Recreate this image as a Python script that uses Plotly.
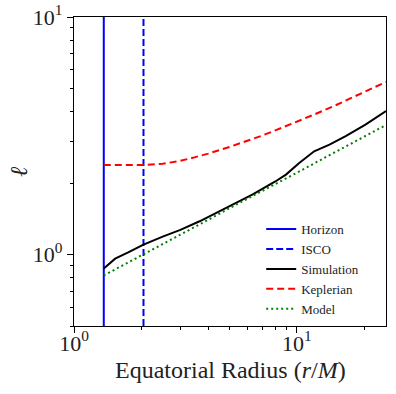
import math
import plotly.graph_objects as go

# ---- data ----
horizon_r = 1.36
isco_r = 2.05

sim_r = [1.36, 1.53, 1.75, 2.05, 2.5, 3.0, 3.66, 4.5, 5.0, 6.34, 8.0, 8.93, 10.24, 11.95, 14.0, 16.55, 20.3, 24.5, 25.1]
sim_l = [0.873, 0.96, 1.02, 1.10, 1.19, 1.27, 1.38, 1.52, 1.60, 1.79, 2.03, 2.17, 2.43, 2.72, 2.90, 3.15, 3.52, 3.95, 4.02]

kep_r = [1.36, 1.75, 2.05, 2.5, 3.0, 3.5, 4.0, 5.0, 6.0, 7.0, 8.0, 10.0, 12.0, 15.0, 18.0, 21.0, 25.1]
kep_l = [2.38, 2.38, 2.38, 2.41, 2.48, 2.57, 2.66, 2.84, 3.01, 3.17, 3.33, 3.62, 3.89, 4.26, 4.61, 4.92, 5.33]

mod_r = [1.36, 2.05, 3.0, 4.0, 5.0, 7.0, 10.0, 14.0, 20.0, 25.1]
mod_l = [0.816, 1.00, 1.21, 1.40, 1.57, 1.85, 2.21, 2.62, 3.13, 3.51]

x_range = [1.0, 25.1]
y_range = [0.5, 10.0]
x_major = [1, 10]
x_major_text = ["10<sup>0</sup>", "10<sup>1</sup>"]
y_major = [1, 10]
y_major_text = ["10<sup>0</sup>", "10<sup>1</sup>"]
x_minor = [2, 3, 4, 5, 6, 7, 8, 9, 20]
y_minor = [0.5, 0.6, 0.7, 0.8, 0.9, 2, 3, 4, 5, 6, 7, 8, 9]
x_title = "Equatorial Radius (<i>r</i>/<i>M</i>)"
y_title = "<i>ℓ</i>"

fig = go.Figure()
fig.add_trace(go.Scatter(x=[horizon_r, horizon_r], y=y_range, mode="lines", name="Horizon",
                         line=dict(color="#0000ff", width=2)))
fig.add_trace(go.Scatter(x=[isco_r, isco_r], y=y_range, mode="lines", name="ISCO",
                         line=dict(color="#0000ff", width=2, dash="7px,3px")))
fig.add_trace(go.Scatter(x=sim_r, y=sim_l, mode="lines", name="Simulation",
                         line=dict(color="black", width=2)))
fig.add_trace(go.Scatter(x=kep_r, y=kep_l, mode="lines", name="Keplerian",
                         line=dict(color="#ff0000", width=2, dash="7px,4px")))
fig.add_trace(go.Scatter(x=mod_r, y=mod_l, mode="lines", name="Model",
                         line=dict(color="#008000", width=2, dash="2px,3px")))

font_family = "Liberation Serif"
axis_common = dict(
    showline=True, linecolor="black", linewidth=1.3, mirror=True,
    ticks="outside", ticklen=6, tickwidth=1, tickcolor="black",
    showgrid=False, zeroline=False, automargin=False,
    tickfont=dict(family=font_family, size=22, color="#222"),
)
fig.update_xaxes(type="log", range=[math.log10(x_range[0]), math.log10(x_range[1])],
                 tickmode="array", tickvals=x_major, ticktext=x_major_text,
                 ticklabelstandoff=-9,
                 minor=dict(tickmode="array", tickvals=x_minor, ticklen=3, tickcolor="black", ticks="outside"),
                 **axis_common)
fig.update_yaxes(type="log", range=[math.log10(y_range[0]), math.log10(y_range[1])],
                 tickmode="array", tickvals=y_major, ticktext=y_major_text,
                 minor=dict(tickmode="array", tickvals=y_minor, ticklen=3, tickcolor="black", ticks="outside"),
                 **axis_common)

fig.add_annotation(text=x_title, xref="paper", yref="paper", x=0.5, y=-0.142,
                   xanchor="center", yanchor="middle", showarrow=False,
                   font=dict(family=font_family, size=24, color="#222"))
fig.add_annotation(text=y_title, xref="paper", yref="paper", x=-0.179, y=0.5,
                   xanchor="center", yanchor="middle", showarrow=False, textangle=-90,
                   font=dict(family=font_family, size=24, color="#222"))

fig.update_layout(
    width=396, height=394,
    margin=dict(l=74, r=10, t=17, b=68),
    font=dict(family=font_family, color="#222"),
    plot_bgcolor="white", paper_bgcolor="white",
    showlegend=True,
    legend=dict(x=0.6, y=0.362, xanchor="left", yanchor="top",
                font=dict(family=font_family, size=13, color="#222"),
                bgcolor="rgba(255,255,255,0.8)", tracegroupgap=0, itemwidth=30),
)

fig.write_html("out.html", config={"displayModeBar": False},
               post_script="document.body.style.margin='0';")
